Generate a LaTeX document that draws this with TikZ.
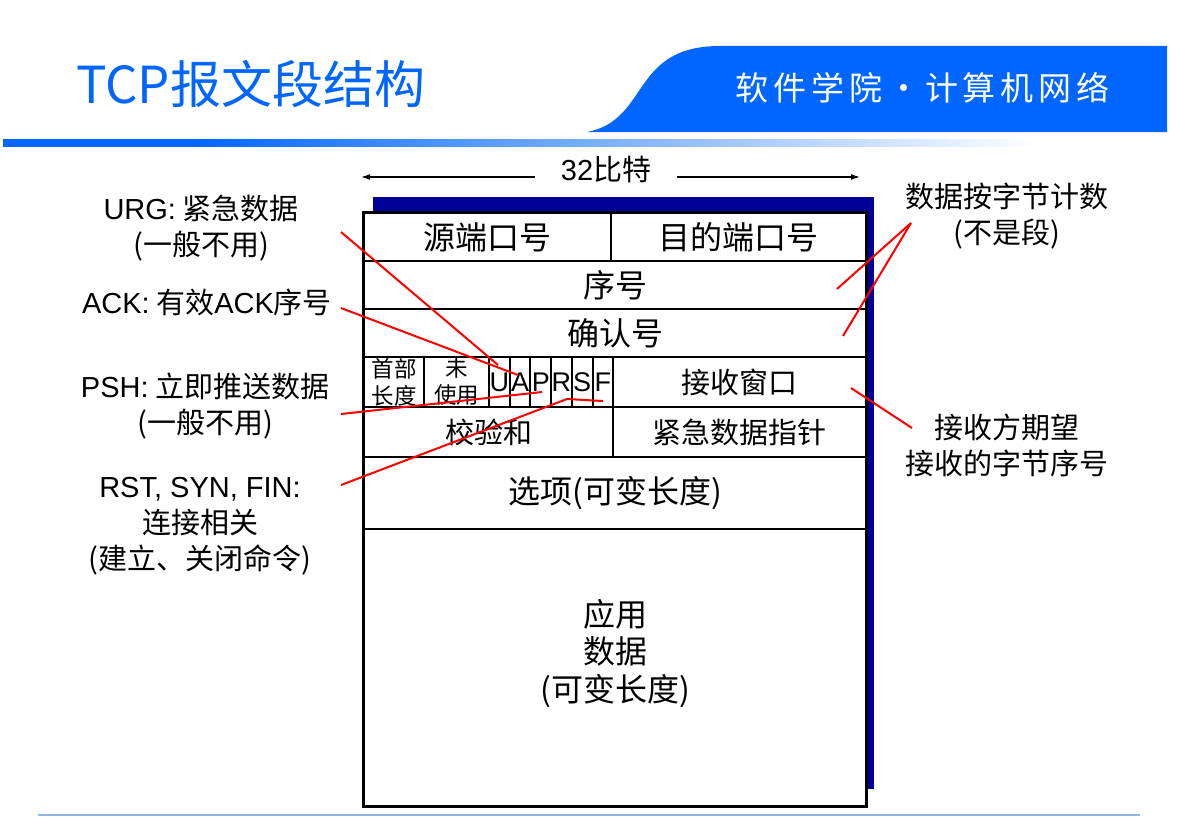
\documentclass[tikz,border=0pt]{standalone}
\usepackage{fontspec}
\setmainfont{Noto Sans CJK SC}
\newfontfamily\lat{Liberation Sans}
\usetikzlibrary{arrows.meta,positioning}
\definecolor{slideblue}{HTML}{0066FF}
\definecolor{shadownavy}{HTML}{000099}
\definecolor{footblue}{HTML}{8DB4E3}
\newcommand{\fsz}[2]{\fontsize{#1}{#2}\selectfont}
\pgfdeclarehorizontalshading{rulefade}{100bp}{color(0bp)=(slideblue); color(34bp)=(slideblue); color(75bp)=(white); color(100bp)=(white)}

\tikzset{
  field/.style={draw, line width=2pt, fill=white, anchor=north west, inner sep=0pt,
    minimum height=48pt, font=\fsz{32}{32}},
  smallfield/.style={field, minimum height=50pt, align=center, font=\fsz{22.5}{27}},
  flag/.style={field, minimum width=20.7pt, minimum height=50pt, font=\lat\fsz{27}{27}},
  note/.style={align=center, inner sep=0pt, font=\fsz{29}{36}},
  pointer/.style={red, line width=2pt},
  bitsarrow/.style={line width=1.3pt, -{Latex[length=9pt,width=6pt]}},
  bannerchar/.style={text=white, font=\fsz{33}{33}, text height=28pt, text depth=5pt},
}

\begin{document}
\begin{tikzpicture}[x=1pt,y=-1pt]
  \useasboundingbox (0,0) rectangle (1177,816);

  % slide header
  \node[anchor=west, inner sep=0pt, text=slideblue, font=\fsz{51}{51}] (title) at (76,84) {TCP报文段结构};
  \fill[slideblue] (587,132) .. controls (650,120) and (630,46) .. (720,46) -- (1167,46) -- (1167,132) -- cycle;
  \foreach \c [count=\i from 0] in {软,件,学,院,·,计,算,机,网,络}
    \node[bannerchar] (banner\i) at (752+37.9*\i,89) {\c};
  \shade[shading=rulefade] (3,139) rectangle (1040,146);
  \draw[footblue, line width=1.5pt] (38,815) -- (1140,815);

  % 32 bit width
  \node[inner xsep=26pt, inner ysep=0pt, font=\fsz{29}{29}] (bits) at (606,169) {{\lat 32}比特};
  \coordinate (bitsL) at (361,177);
  \coordinate (bitsR) at (860,177);
  \draw[bitsarrow] (bits.west |- bitsL) -- (bitsL);
  \draw[bitsarrow] (bits.east |- bitsR) -- (bitsR);

  % segment layout
  \fill[shadownavy] (373,197) rectangle (874,789);
  \node[field, minimum width=247pt] (srcport) at (363,212) {源端口号};
  \node[field, minimum width=255pt] (dstport) at (610,212) {目的端口号};
  \node[field, minimum width=502pt] (seqno) at (363,260) {序号};
  \node[field, minimum width=502pt] (ackno) at (363,308) {确认号};
  \node[smallfield, minimum width=60pt] (hdrlen) at (363,356) {首部\\长度};
  \node[smallfield, minimum width=65pt] (unused) at (423,356) {未\\使用};
  \foreach \f [count=\i from 0] in {U,A,P,R,S,F}
    \node[flag] (flag\f) at (488+20.7*\i,356) {\f};
  \node[field, minimum width=253pt, minimum height=50pt, font=\fsz{29}{29}] (window) at (612,356) {接收窗口};
  \node[field, minimum width=249pt, minimum height=50pt, font=\fsz{29}{29}] (checksum) at (363,406) {校验和};
  \node[field, minimum width=253pt, minimum height=50pt, font=\fsz{29}{29}] (urgptr) at (612,406) {紧急数据指针};
  \node[field, minimum width=502pt, minimum height=72pt] (options) at (363,456) {选项(可变长度)};
  \node[field, minimum width=502pt, minimum height=277pt] (appdata) at (363,528) {};
  \node[align=center, inner sep=0pt, font=\fsz{32}{37.5}] (appdatatext) at ([yshift=14pt]appdata.center) {应用\\数据\\(可变长度)};
  \draw[line width=2.6pt] (srcport.north west) rectangle (appdata.south east);

  % notes
  \node[note] (urg) at (201,228) {{\lat URG:} 紧急数据\\(一般不用)};
  \node[note] (ack) at (207,302) {{\lat ACK:} 有效{\lat ACK}序号};
  \node[note] (psh) at (205,406) {{\lat PSH:} 立即推送数据\\(一般不用)};
  \node[note] (rst) at (200,526) {{\lat RST, SYN, FIN:}\\连接相关\\(建立、关闭命令)};
  \node[note] (bytecount) at (1007,216) {数据按字节计数\\(不是段)};
  \node[note] (expect) at (1007,445) {接收方期望\\接收的字节序号};

  % red pointers
  \coordinate (urgTail) at (341,232);
  \coordinate (urgTip) at (498,365);
  \coordinate (ackTail) at (341,308);
  \coordinate (ackTip) at (518,375);
  \coordinate (pshTail) at (341,414);
  \coordinate (pshTip) at (542,392);
  \coordinate (rstTail) at (341,485);
  \coordinate (rstBend) at (567,399);
  \coordinate (rstTip) at (603,401);
  \coordinate (countTail) at (911,223);
  \coordinate (seqTip) at (837,289);
  \coordinate (ackNoTip) at (843,336);
  \coordinate (windowTip) at (851,388);
  \coordinate (expectTail) at (912,428);
  \draw[pointer] (urgTail) -- (urgTip);
  \draw[pointer] (ackTail) -- (ackTip);
  \draw[pointer] (pshTail) -- (pshTip);
  \draw[pointer] (rstTail) -- (rstBend) -- (rstTip);
  \draw[pointer] (countTail) -- (seqTip);
  \draw[pointer] (countTail) -- (ackNoTip);
  \draw[pointer] (windowTip) -- (expectTail);
\end{tikzpicture}
\end{document}
